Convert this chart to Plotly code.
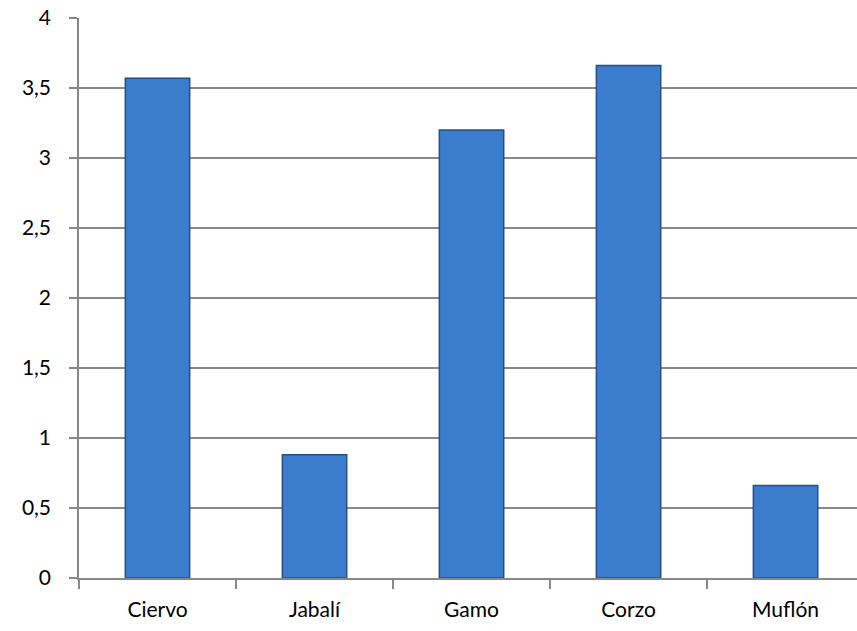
import plotly.graph_objects as go

categories = ["Ciervo", "Jabalí", "Gamo", "Corzo", "Muflón"]
values = [3.57, 0.88, 3.2, 3.66, 0.66]
y_ticks = [0, 0.5, 1, 1.5, 2, 2.5, 3, 3.5, 4]

grid = "#888888"

fig = go.Figure()
fig.add_trace(go.Bar(
    x=categories, y=values, width=0.41,
    marker=dict(color="#3c7ccc", line=dict(color="#21508c", width=1.5)),
))

fig.update_layout(
    width=857, height=631,
    margin=dict(l=79, r=0, t=18, b=53),
    paper_bgcolor="white", plot_bgcolor="white",
    separators=",.",
    showlegend=False,
    font=dict(family="Lato, Open Sans, sans-serif", size=21, color="black"),
)
fig.update_xaxes(
    range=[-0.5, 4.455],
    showline=True, linecolor=grid, linewidth=1.5,
    ticks="outside", tickson="boundaries", ticklen=9, tickcolor=grid, tickwidth=1.5,
    showgrid=False, ticklabelstandoff=12,
    tickfont=dict(size=21),
)
fig.update_yaxes(
    range=[0, 4], tickvals=y_ticks,
    showline=True, linecolor=grid, linewidth=1.5,
    showgrid=True, gridcolor=grid, gridwidth=1.5,
    ticks="outside", ticklen=8, tickcolor=grid, tickwidth=1.5,
    ticklabelstandoff=14, zeroline=False,
    tickfont=dict(size=21),
)

fig.write_html("out.html")
